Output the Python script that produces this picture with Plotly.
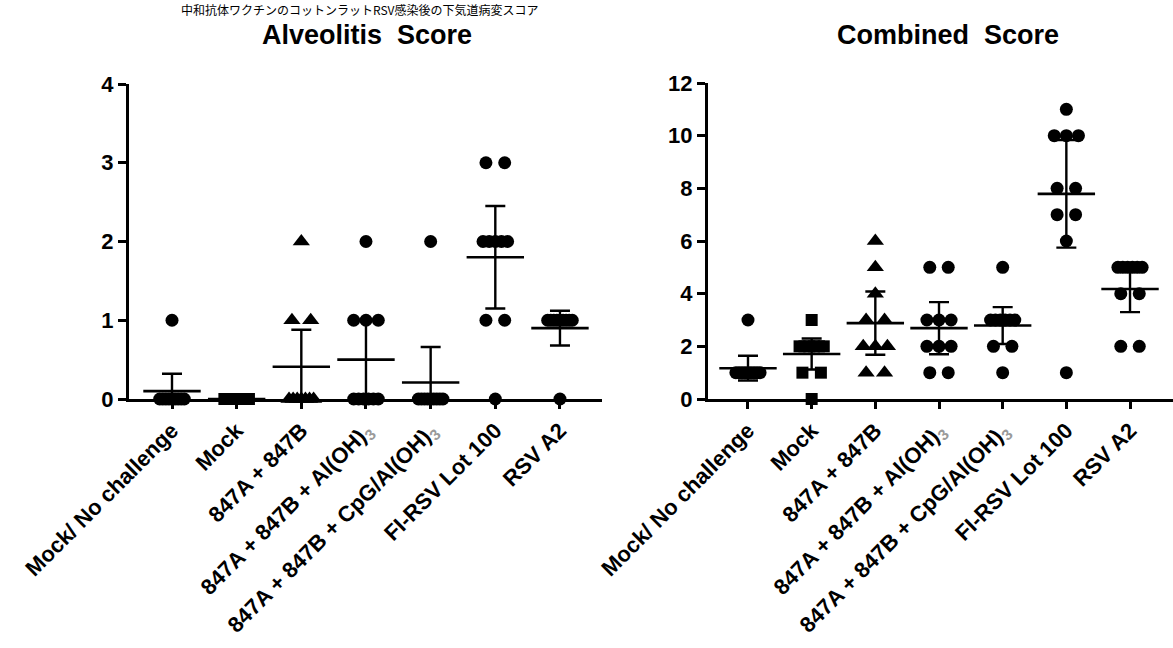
import plotly.graph_objects as go

# ---------------- data ----------------
tick3 = "<sub><span style='color:#9a9a9a'>3</span></sub>"
categories = [
    "Mock/ No challenge",
    "Mock",
    "847A + 847B",
    "847A + 847B + Al(OH)" + tick3,
    "847A + 847B + CpG/Al(OH)" + tick3,
    "FI-RSV Lot 100",
    "RSV A2",
]
symbols = ["circle", "square", "triangle-up", "circle", "circle", "circle", "circle"]

# Alveolitis score – individual animals
alv_mock_nochal = [1, 0, 0, 0, 0, 0, 0, 0, 0, 0]
alv_mock = [0, 0, 0, 0, 0, 0, 0, 0, 0, 0]
alv_847 = [2, 1, 1, 0, 0, 0, 0, 0, 0, 0]
alv_847_al = [2, 1, 1, 1, 0, 0, 0, 0, 0, 0]
alv_847_cpg = [2, 0, 0, 0, 0, 0, 0, 0, 0, 0]
alv_fi = [3, 3, 2, 2, 2, 2, 2, 1, 1, 0]
alv_a2 = [1, 1, 1, 1, 1, 1, 1, 1, 1, 0]
alv_mean = [0.10, 0.00, 0.41, 0.50, 0.21, 1.80, 0.90]
alv_err = [0.22, 0.00, 0.47, 0.50, 0.45, 0.65, 0.22]

# Combined score – individual animals
comb_mock_nochal = [3, 1, 1, 1, 1, 1, 1, 1, 1, 1]
comb_mock = [3, 2, 2, 2, 2, 2, 2, 1, 1, 0]
comb_847 = [6, 5, 4, 3, 3, 2, 2, 2, 1, 1]
comb_847_al = [5, 5, 3, 3, 3, 2, 2, 2, 1, 1]
comb_847_cpg = [5, 3, 3, 3, 3, 3, 3, 2, 2, 1]
comb_fi = [11, 10, 10, 10, 8, 8, 7, 7, 6, 1]
comb_a2 = [5, 5, 5, 5, 5, 5, 4, 4, 2, 2]
comb_mean = [1.17, 1.71, 2.88, 2.69, 2.79, 7.79, 4.18]
comb_err = [0.47, 0.59, 1.20, 0.99, 0.70, 2.04, 0.88]

alv_groups = [alv_mock_nochal, alv_mock, alv_847, alv_847_al, alv_847_cpg, alv_fi, alv_a2]
comb_groups = [comb_mock_nochal, comb_mock, comb_847, comb_847_al, comb_847_cpg, comb_fi, comb_a2]

# ---------------- helpers ----------------
def spread(values, center):
    """Scatter-dot layout: spread equal values symmetrically around the group centre."""
    xs, ys = [], []
    seen = {}
    for v in values:
        seen[v] = seen.get(v, 0) + 1
    for v, k in seen.items():
        step = min(0.29, 0.38 / (k - 1)) if k > 1 else 0
        for j in range(k):
            xs.append(center + (j - (k - 1) / 2) * step)
            ys.append(v)
    return xs, ys


FONT = "Liberation Sans, Arial, sans-serif"
fig = go.Figure()


def add_panel(groups, means, errs, xa, ya):
    for i, vals in enumerate(groups):
        xs, ys = spread(vals, i)
        fig.add_trace(go.Scatter(
            x=xs, y=ys, mode="markers", xaxis=xa, yaxis=ya, showlegend=False,
            cliponaxis=False,
            marker=dict(symbol=symbols[i], color="black",
                        size=15 if symbols[i] == "triangle-up" else (12 if symbols[i] == "square" else 13),
                        line=dict(width=0)),
        ))
    fig.add_trace(go.Scatter(
        x=list(range(len(means))), y=means, mode="markers", xaxis=xa, yaxis=ya,
        showlegend=False, cliponaxis=True,
        marker=dict(symbol="line-ew", size=41, color="black",
                    line=dict(width=2.6, color="black")),
        error_y=dict(type="data", array=errs, visible=True, color="black",
                     thickness=2.4, width=10),
    ))


add_panel(alv_groups, alv_mean, alv_err, "x", "y")
add_panel(comb_groups, comb_mean, comb_err, "x2", "y2")

axis_common = dict(showline=True, linecolor="black", linewidth=3, showgrid=False,
                   zeroline=False, ticks="outside", tickcolor="black", tickwidth=2.5,
                   automargin=False,
                   tickfont=dict(family=FONT, size=22, color="black", weight="bold"))

y0 = 1 - 399 / 648
fig.update_layout(
    width=1173, height=648,
    margin=dict(l=0, r=0, t=0, b=0, autoexpand=False),
    paper_bgcolor="white", plot_bgcolor="white",
    xaxis=dict(domain=[129 / 1173, 602 / 1173], range=[-0.665, 6.65], anchor="y",
               tickvals=list(range(7)), ticktext=categories, tickangle=-45, ticklen=7,
               **axis_common),
    yaxis=dict(domain=[y0, 1 - 84 / 648], range=[0, 4], dtick=1, anchor="x", ticklen=8,
               **axis_common),
    xaxis2=dict(domain=[708 / 1173, 1.0], range=[-0.628, 6.675], anchor="y2",
                tickvals=list(range(7)), ticktext=categories, tickangle=-45, ticklen=7,
                **axis_common),
    yaxis2=dict(domain=[y0, 1 - 83 / 648], range=[0, 12], dtick=2, anchor="x2", ticklen=8,
                **axis_common),
)

fig.add_annotation(text="Alveolitis  Score", x=367 / 1173, y=1 - 35 / 648, xref="paper",
                   yref="paper", showarrow=False, xanchor="center", yanchor="middle",
                   font=dict(family=FONT, size=27, color="black", weight="bold"))
fig.add_annotation(text="Combined  Score", x=948 / 1173, y=1 - 35 / 648, xref="paper",
                   yref="paper", showarrow=False, xanchor="center", yanchor="middle",
                   font=dict(family=FONT, size=27, color="black", weight="bold"))
fig.add_annotation(text="中和抗体ワクチンのコットンラットRSV感染後の下気道病変スコア",
                   x=180 / 1173, y=1.0, xref="paper", yref="paper", showarrow=False,
                   xanchor="left", yanchor="top", borderpad=0,
                   font=dict(family="Noto Sans CJK JP", size=12, color="black"))

fig.write_html("out.html", config={"displayModeBar": False},
               post_script="document.body.style.margin='0px';")
